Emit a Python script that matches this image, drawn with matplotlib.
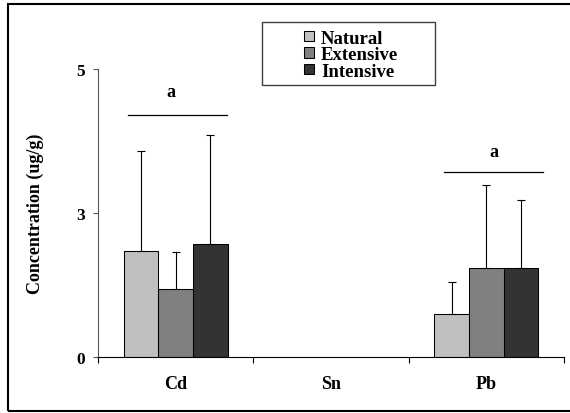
import numpy as np
import matplotlib
matplotlib.use("Agg")
import matplotlib.pyplot as plt
import matplotlib.patches as mpatches

plt.rcParams['font.family'] = ['Liberation Serif', 'DejaVu Serif']
plt.rcParams['font.weight'] = 'bold'

metals = ['Cd', 'Sn', 'Pb']
groups = ['Natural', 'Extensive', 'Intensive']
natural = [1.84, np.nan, 0.75]
extensive = [1.17, np.nan, 1.55]
intensive = [1.96, np.nan, 1.55]
natural_err = [1.73, np.nan, 0.55]
extensive_err = [0.65, np.nan, 1.44]
intensive_err = [1.90, np.nan, 1.18]
bar_colors = ['#C0C0C0', '#808080', '#333333']

y_ticks = [0, 2.5, 5]
y_tick_labels = ['0', '3', '5']

# significance letters: (x from, x to, line y, letter x, letter y, letter)
sig_marks = [(-0.306, 0.332, 4.196, -0.03, 4.53, 'a'),
             (1.726, 2.365, 3.21, 2.05, 3.485, 'a')]

fig = plt.figure(figsize=(5.7, 4.14), dpi=100)
ax = fig.add_axes([98 / 570, (414 - 357.7) / 414, 466 / 570, 287.7 / 414])

x = np.arange(len(metals))
w = 0.2226
series = [natural, extensive, intensive]
errs = [natural_err, extensive_err, intensive_err]
handles = []
for i, (vals, err, col) in enumerate(zip(series, errs, bar_colors)):
    pos = x + (i - 1) * w
    b = ax.bar(pos, vals, width=w, color=col, edgecolor='black', linewidth=0.75, zorder=2)
    handles.append(b)
    ax.errorbar(pos, vals, yerr=[np.zeros(len(vals)), err], fmt='none', ecolor='black',
                elinewidth=0.8, capsize=3.2, capthick=0.8, zorder=3)

for x0, x1, ly, tx, ty, letter in sig_marks:
    ax.plot([x0, x1], [ly, ly], color='black', lw=0.9, clip_on=False)
    ax.text(tx, ty, letter, ha='center', va='baseline', fontsize=13, fontweight='bold')

ax.set_xlim(-0.5, 2.5)
ax.set_ylim(0, 5)
ax.set_xticks(x)
ax.set_xticklabels(metals, fontsize=13, fontweight='bold')
ax.set_xticks([-0.5, 0.5, 1.5, 2.5], minor=True)
ax.tick_params(axis='x', which='major', length=0, pad=13)
ax.tick_params(axis='x', which='minor', length=4.3, width=0.8, direction='out')
ax.set_yticks(y_ticks)
ax.set_yticklabels(y_tick_labels, fontsize=12.5, fontweight='bold')
ax.tick_params(axis='y', length=3.6, width=0.8, direction='out', pad=5.8, color='#555555')

for s in ['top', 'right']:
    ax.spines[s].set_visible(False)
ax.spines['left'].set_color('#555555')
ax.spines['left'].set_linewidth(0.8)
ax.spines['bottom'].set_color('black')
ax.spines['bottom'].set_linewidth(0.8)

ax.set_ylabel('Concentration (ug/g)', fontsize=13, fontweight='bold')
ax.yaxis.set_label_coords((44 - 98) / 466, 0.5)

ax.legend(handles, groups, loc='upper left', bbox_to_anchor=(304 / 570, 1 - 30.5 / 414),
          bbox_transform=fig.transFigure, frameon=False, borderpad=0, borderaxespad=0,
          prop={'family': 'Liberation Serif', 'weight': 'bold', 'size': 13.5},
          handlelength=0.53, handleheight=0.5, handletextpad=0.37, labelspacing=-0.02)

# legend box and outer frame
fig.add_artist(mpatches.Rectangle((262.3 / 570, 1 - 86 / 414), 172.7 / 570, 62.7 / 414,
                                  transform=fig.transFigure, fill=False,
                                  edgecolor='#404040', lw=1))
fig.add_artist(mpatches.Rectangle((8 / 570, 1 - 411.5 / 414), 600 / 570, 407 / 414,
                                  transform=fig.transFigure, fill=False,
                                  edgecolor='black', lw=1.5))

fig.savefig('out.png', dpi=100)
